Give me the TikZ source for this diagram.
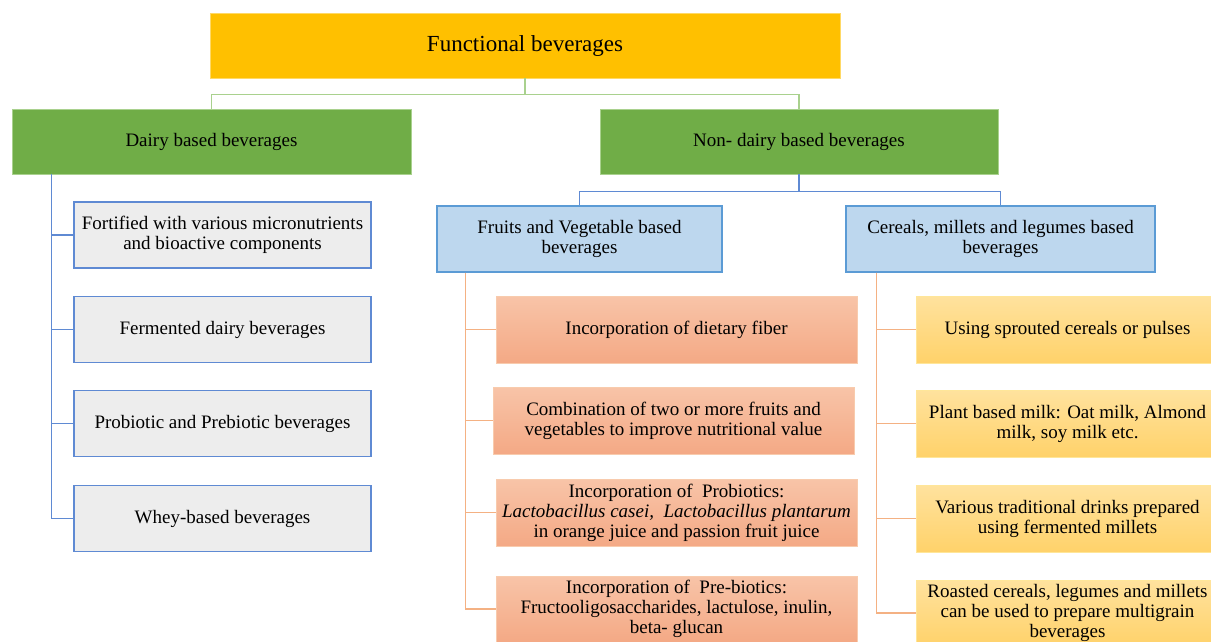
\documentclass[tikz,border=0pt]{standalone}
\usepackage{fontspec}
\setmainfont{Liberation Serif}
\definecolor{gold}{HTML}{FFC000}
\definecolor{goldline}{HTML}{FFD966}
\definecolor{grn}{HTML}{70AD47}
\definecolor{grnline}{HTML}{A9D18E}
\definecolor{bluecon}{HTML}{5F8AD3}
\definecolor{lgray}{HTML}{EDEDED}
\definecolor{lblue}{HTML}{BDD7EE}
\definecolor{bline}{HTML}{5B9BD5}
\definecolor{orcon}{HTML}{F4B183}
\definecolor{salt}{HTML}{F8C4A8}
\definecolor{salb}{HTML}{F4A985}
\definecolor{salline}{HTML}{F8CBAD}
\definecolor{yelt}{HTML}{FFE29E}
\definecolor{yelb}{HTML}{FFD26A}
\definecolor{yelline}{HTML}{FFE699}
\tikzset{
  base/.style={inner sep=0pt, align=center, font=\fontsize{19}{20}\selectfont, text=black},
  topbox/.style={base, fill=gold, draw=goldline, line width=0.8pt, font=\fontsize{23}{26}\selectfont},
  grnbox/.style={base, fill=grn, draw=grnline, line width=0.8pt},
  graybox/.style={base, fill=lgray, draw=bluecon, line width=1.3pt},
  bluebox/.style={base, fill=lblue, draw=bline, line width=1.3pt},
  salbox/.style={base, top color=salt, bottom color=salb, draw=salline, line width=0.8pt},
  yelbox/.style={base, top color=yelt, bottom color=yelb, draw=yelline, line width=0.8pt},
  gcon/.style={draw=grnline, line width=1.3pt},
  bcon/.style={draw=bluecon, line width=1.3pt},
  ocon/.style={draw=orcon, line width=1.3pt},
}
\begin{document}
\begin{tikzpicture}[x=1pt,y=-1pt]
\clip (0,0) rectangle (1211,641);
\fill[white] (0,0) rectangle (1211,641);

\node[topbox, minimum width=630, minimum height=65] (top) at (525,45.5) {Functional beverages};
\node[grnbox, minimum width=399, minimum height=65] (dairy) at (211.5,141.5) {Dairy based beverages};
\node[grnbox, minimum width=398, minimum height=65] (nond) at (799,141.5) {Non- dairy based beverages};

\draw[gcon] (top.south) -- ++(0,16) -| (dairy.north);
\draw[gcon] (top.south) -- ++(0,16) -| (nond.north);

% dairy children
\node[graybox, minimum width=297, minimum height=66] (d1) at (222.5,235) {Fortified with various micronutrients\\and bioactive components};
\node[graybox, minimum width=297, minimum height=66] (d2) at (222.5,329.5) {Fermented dairy beverages};
\node[graybox, minimum width=297, minimum height=66] (d3) at (222.5,423.5) {Probiotic and Prebiotic beverages};
\node[graybox, minimum width=297, minimum height=66] (d4) at (222.5,518.5) {Whey-based beverages};
\coordinate (dt) at ([xshift=40]dairy.south west);
\foreach \n in {d1,d2,d3,d4}{\draw[bcon] (dt) |- (\n.west);}

% non-dairy children
\node[bluebox, minimum width=285, minimum height=66] (fruit) at (579.5,239) {Fruits and Vegetable based\\beverages};
\node[bluebox, minimum width=309, minimum height=66] (cer) at (1000.5,239) {Cereals, millets and legumes based\\beverages};
\draw[bcon] (nond.south) -- ++(0,17) -| (fruit.north);
\draw[bcon] (nond.south) -- ++(0,17) -| (cer.north);

% fruit children
\node[salbox, minimum width=361, minimum height=67] (f1) at (676.5,329.5) {Incorporation of dietary fiber};
\node[salbox, minimum width=361, minimum height=67] (f2) at (673.5,420.5) {Combination of two or more fruits and\\vegetables to improve nutritional value};
\node[salbox, minimum width=361, minimum height=67] (f3) at (676.5,512.5) {Incorporation of\ \ Probiotics:\\\textit{Lactobacillus casei,\ \ Lactobacillus plantarum}\\in orange juice and passion fruit juice};
\node[salbox, minimum width=361, minimum height=66] (f4) at (676.5,609) {Incorporation of\ \ Pre-biotics:\\Fructooligosaccharides, lactulose, inulin,\\beta- glucan};
\coordinate (ft) at ([xshift=29]fruit.south west);
\foreach \n in {f1,f2,f3,f4}{\draw[ocon] (ft) |- (\n.west);}

% cereal children
\node[yelbox, minimum width=303, minimum height=67] (c1) at (1067.5,329.5) {Using sprouted cereals or pulses};
\node[yelbox, minimum width=303, minimum height=67] (c2) at (1067.5,423.5) {Plant based milk: Oat milk, Almond\\milk, soy milk etc.};
\node[yelbox, minimum width=303, minimum height=67] (c3) at (1067.5,518.5) {Various traditional drinks prepared\\using fermented millets};
\node[yelbox, minimum width=303, minimum height=66] (c4) at (1067.5,613) {Roasted cereals, legumes and millets\\can be used to prepare multigrain\\beverages};
\coordinate (ct) at ([xshift=31]cer.south west);
\foreach \n in {c1,c2,c3,c4}{\draw[ocon] (ct) |- (\n.west);}
\end{tikzpicture}
\end{document}
